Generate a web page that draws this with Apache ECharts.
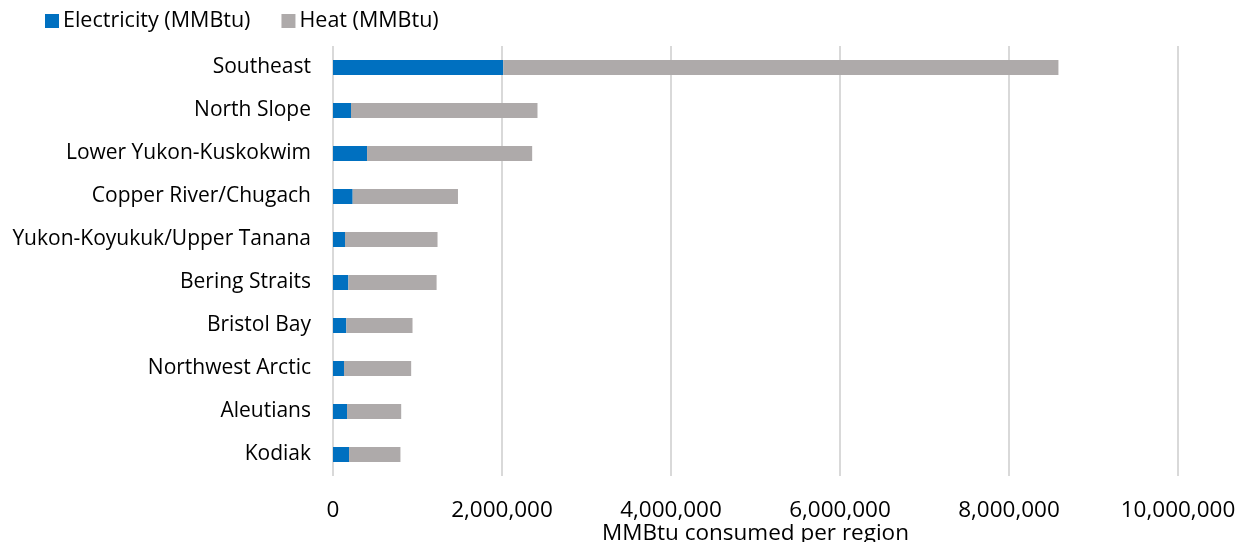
<!DOCTYPE html>
<html>
<head>
<meta charset="utf-8">
<script src="https://cdn.jsdelivr.net/npm/echarts@6/dist/echarts.min.js"></script>
<style>
  html, body { margin: 0; padding: 0; background: #fff; }
  #chart { width: 1235px; height: 542px; }
</style>
</head>
<body>
<div id="chart"></div>
<script>
// Regions, listed top to bottom as drawn
const regions = [
  'Southeast', 'North Slope', 'Lower Yukon-Kuskokwim', 'Copper River/Chugach',
  'Yukon-Koyukuk/Upper Tanana', 'Bering Straits', 'Bristol Bay',
  'Northwest Arctic', 'Aleutians', 'Kodiak'
];
// Energy consumed per region (MMBtu)
const electricity = [2015000, 213000, 403000, 233000, 142000, 182000, 158000, 130000, 166000, 190000];
const heat = [6570000, 2207000, 1954000, 1246000, 1095000, 1044000, 783000, 795000, 641000, 608000];
const xTicks = { min: 0, max: 10000000, interval: 2000000 };

const font = '"Open Sans", sans-serif';
const chart = echarts.init(document.getElementById('chart'));
chart.setOption({
  animation: false,
  textStyle: { fontFamily: font },
  legend: {
    left: 40, top: 5,
    itemWidth: 14, itemHeight: 14, itemGap: 31,
    icon: 'rect',
    textStyle: { fontFamily: font, fontSize: 21.5, color: '#000', padding: [0, 0, 0, -1] },
    data: ['Electricity (MMBtu)', 'Heat (MMBtu)']
  },
  grid: {
    left: 333, right: 57, top: 46, bottom: 66,
    containLabel: false, outerBoundsMode: 'none'
  },
  xAxis: {
    type: 'value',
    min: xTicks.min, max: xTicks.max, interval: xTicks.interval,
    name: 'MMBtu consumed per region',
    nameLocation: 'middle', nameGap: 46, nameMoveOverlap: false,
    nameTextStyle: { fontFamily: font, fontSize: 22.5, color: '#000' },
    axisLine: { show: false },
    axisTick: { show: false },
    axisLabel: {
      fontFamily: font, fontSize: 22.5, color: '#000', margin: 23,
      formatter: v => v.toLocaleString('en-US')
    },
    splitLine: { lineStyle: { color: '#D9D9D9', width: 2 } }
  },
  yAxis: {
    type: 'category',
    inverse: true,
    data: regions,
    axisLine: { show: false },
    axisTick: { show: false },
    axisLabel: { fontFamily: font, fontSize: 21, color: '#000', margin: 22, padding: [3, 0, 0, 0] }
  },
  series: [
    {
      name: 'Electricity (MMBtu)', type: 'bar', stack: 'total',
      barWidth: 15, itemStyle: { color: '#0070C0' }, data: electricity
    },
    {
      name: 'Heat (MMBtu)', type: 'bar', stack: 'total',
      barWidth: 15, itemStyle: { color: '#AEAAAA' }, data: heat
    }
  ]
});
</script>
</body>
</html>
